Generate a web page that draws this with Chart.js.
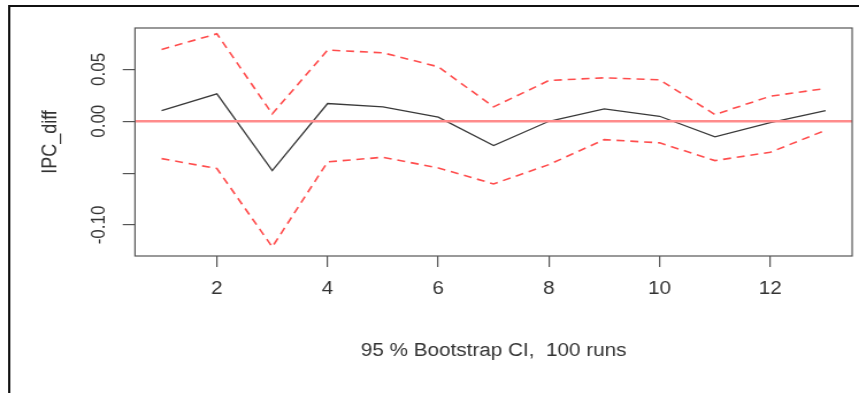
<!DOCTYPE html>
<html>
<head>
<meta charset="utf-8">
<script src="https://cdn.jsdelivr.net/npm/chart.js@4.4.1/dist/chart.umd.min.js"></script>
<style>
    html, body { margin: 0; padding: 0; background: #fff; overflow: hidden; }
    /* the reference is stretched sideways, so draw narrower and scale up */
    #wrap { width: 747px; height: 393px; transform: scaleX(1.15); transform-origin: 0 0; }
</style>
</head>
<body>
<div id="wrap"><canvas id="chart" width="747" height="393"></canvas></div>
<script>
// Bootstrap run values
const runs = [1, 2, 3, 4, 5, 6, 7, 8, 9, 10, 11, 12, 13];
const ipcDiff = [0.0103, 0.0264, -0.0476, 0.0171, 0.0139, 0.0039, -0.0235, 0.0, 0.012, 0.0048, -0.0151, -0.0013, 0.0103];
const ciUpper = [0.0692, 0.0843, 0.0071, 0.0686, 0.066, 0.0525, 0.0139, 0.0393, 0.0419, 0.040, 0.0065, 0.0241, 0.0316];
const ciLower = [-0.036, -0.0456, -0.1212, -0.0392, -0.0347, -0.045, -0.0604, -0.0418, -0.0177, -0.0208, -0.0379, -0.0299, -0.0087];
const xTicks = [2, 4, 6, 8, 10, 12];
const yTicks = [-0.10, -0.05, 0.00, 0.05];
// the -0.05 tick has no label in the reference
const yTickLabels = ['-0.10', '', '0.00', '0.05'];
const X_MIN = 0.52, X_MAX = 13.48;
const Y_MIN = -0.1299, Y_MAX = 0.0899;

const toPoints = vals => runs.map((r, i) => ({ x: r, y: vals[i] }));

// Box around the plot and the outer frame lines
const framePlugin = {
    id: 'frame',
    afterDraw(chart) {
        const { ctx, chartArea: a } = chart;
        ctx.save();
        ctx.strokeStyle = '#555';
        ctx.lineWidth = 1.2;
        ctx.strokeRect(a.left, a.top, a.right - a.left, a.bottom - a.top);
        ctx.strokeStyle = '#111';
        ctx.lineWidth = 2;
        ctx.beginPath();
        ctx.moveTo(8, 393);
        ctx.lineTo(8, 6);
        ctx.lineTo(chart.width, 6);
        ctx.stroke();
        ctx.restore();
    }
};

new Chart(document.getElementById('chart'), {
    type: 'line',
    data: {
        datasets: [
            {
                label: 'zero',
                data: [{ x: X_MIN, y: 0 }, { x: X_MAX, y: 0 }],
                borderColor: '#ff8c8c',
                borderWidth: 2.4,
                pointRadius: 0
            },
            {
                label: 'IPC_diff',
                data: toPoints(ipcDiff),
                borderColor: '#3a3a3a',
                borderWidth: 1.3,
                pointRadius: 0
            },
            {
                label: 'upper',
                data: toPoints(ciUpper),
                borderColor: '#ff4d4d',
                borderWidth: 1.6,
                borderDash: [7, 5],
                pointRadius: 0
            },
            {
                label: 'lower',
                data: toPoints(ciLower),
                borderColor: '#ff4d4d',
                borderWidth: 1.6,
                borderDash: [7, 5],
                pointRadius: 0
            }
        ]
    },
    options: {
        responsive: false,
        animation: false,
        layout: { padding: { top: 28, right: 6, bottom: 0, left: 0 } },
        plugins: {
            legend: { display: false },
            tooltip: { enabled: false }
        },
        scales: {
            x: {
                type: 'linear',
                min: X_MIN,
                max: X_MAX,
                afterBuildTicks: s => { s.ticks = xTicks.map(v => ({ value: v })); },
                afterFit: s => { s.height = 137; },
                grid: { drawOnChartArea: false, tickLength: 11, color: '#555', lineWidth: 1.2 },
                border: { display: false },
                ticks: {
                    color: '#333',
                    padding: 11,
                    maxRotation: 0,
                    font: { family: 'Liberation Sans, Arial, sans-serif', size: 18 }
                },
                title: {
                    display: true,
                    text: '95 % Bootstrap CI,  100 runs',
                    color: '#333',
                    padding: { top: 0, bottom: 31 },
                    font: { family: 'Liberation Sans, Arial, sans-serif', size: 18 }
                }
            },
            y: {
                min: Y_MIN,
                max: Y_MAX,
                afterBuildTicks: s => { s.ticks = yTicks.map(v => ({ value: v })); },
                afterFit: s => { s.width = 117.4; },
                grid: { drawOnChartArea: false, tickLength: 10.7, color: '#555', lineWidth: 1.2 },
                border: { display: false },
                ticks: {
                    color: '#333',
                    padding: 1,
                    minRotation: 90,
                    maxRotation: 90,
                    crossAlign: 'center',
                    callback: (v, i) => yTickLabels[i],
                    font: { family: 'Liberation Sans, Arial, sans-serif', size: 17 }
                },
                title: {
                    display: true,
                    text: 'IPC_diff',
                    color: '#333',
                    padding: { top: 33, bottom: 0 },
                    font: { family: 'Liberation Sans, Arial, sans-serif', size: 18 }
                }
            }
        }
    },
    plugins: [framePlugin]
});
</script>
</body>
</html>
